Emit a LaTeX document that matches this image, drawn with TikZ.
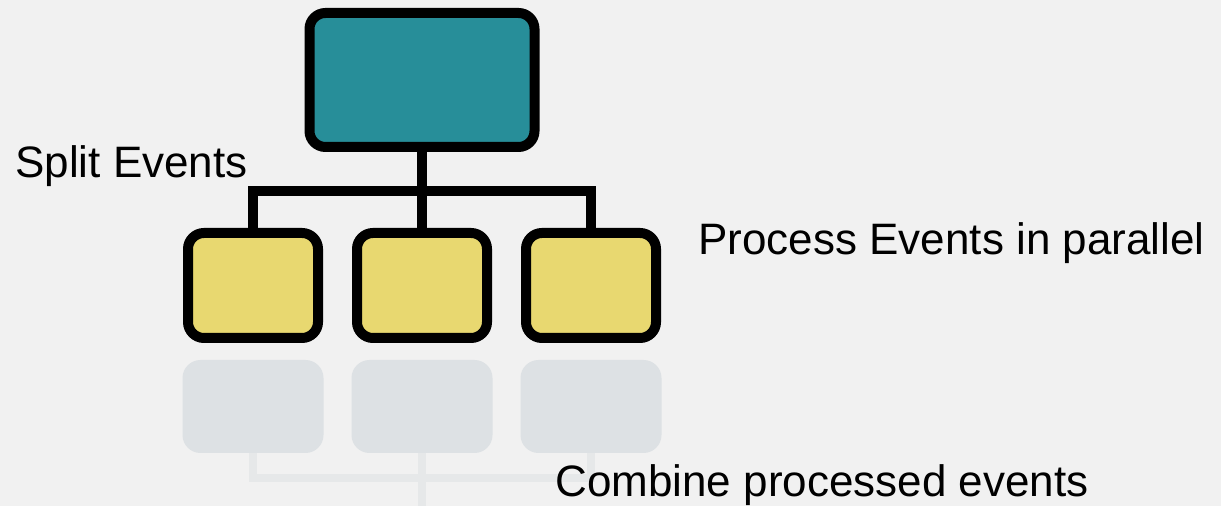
\documentclass[tikz,border=0pt]{standalone}
\usepackage{fontspec}
\setmainfont{Liberation Sans}
\usepackage{xcolor}
\usepackage{tikz}
\usetikzlibrary{positioning, calc}
\definecolor{pagebg}{RGB}{241,241,241}
\definecolor{splitfill}{RGB}{39,142,153}
\definecolor{procfill}{RGB}{232,216,112}
\definecolor{ghostfill}{RGB}{221,225,228}
\definecolor{ghostline}{RGB}{230,232,233}

\begin{document}
\begin{tikzpicture}[
        x=0.5pt, y=-0.5pt,
        splitbox/.style={draw, rectangle, rounded corners=8pt, minimum width=112.5pt, minimum height=67pt, fill=splitfill, line width=5pt, outer sep=0pt},
        procbox/.style={draw, rectangle, rounded corners=8pt, minimum width=65pt, minimum height=52.5pt, fill=procfill, line width=5pt, outer sep=0pt},
        ghostbox/.style={draw=none, rectangle, rounded corners=9pt, minimum width=70.5pt, minimum height=46.5pt, fill=ghostfill, outer sep=0pt},
        link/.style={line width=5pt, line join=miter},
        ghostlink/.style={line width=4pt, draw=ghostline},
        caption/.style={anchor=base west, inner sep=0pt, font=\fontsize{22}{26}\selectfont}
    ]

    % Background
    \fill[pagebg] (0,0) rectangle (1221,506);
    \useasboundingbox (0,0) rectangle (1221,506);

    % Ghost combine step
    \node[ghostbox] (ghostB) at (422,406.5) {};
    \node[ghostbox] (ghostA) [left=14pt of ghostB] {};
    \node[ghostbox] (ghostC) [right=14pt of ghostB] {};
    \coordinate (join) at ($(ghostB.south)+(0,-12.5pt)$);
    \draw[ghostlink] (ghostA.south) |- (join) -| (ghostC.south);
    \draw[ghostlink] (ghostB.south) -- (ghostB.south |- 0,506);

    % Split and process
    \node[splitbox] (parent) at (422,80) {};
    \node[procbox] (childB) [below=43pt of parent] {};
    \node[procbox] (childA) [left=19.5pt of childB] {};
    \node[procbox] (childC) [right=19.5pt of childB] {};

    % Connectors
    \coordinate (fork) at ($(parent.south)+(0,-22pt)$);
    \draw[link] (parent.south) -- (childB.north);
    \draw[link] (childA.north) |- (fork) -| (childC.north);

    % Labels
    \node[caption] (splitlbl) at (15,178) {Split Events};
    \node[caption] (proclbl) at (698,255) {Process Events in parallel};
    \node[caption] (combinelbl) at (555,497) {Combine processed events};

\end{tikzpicture}
\end{document}
